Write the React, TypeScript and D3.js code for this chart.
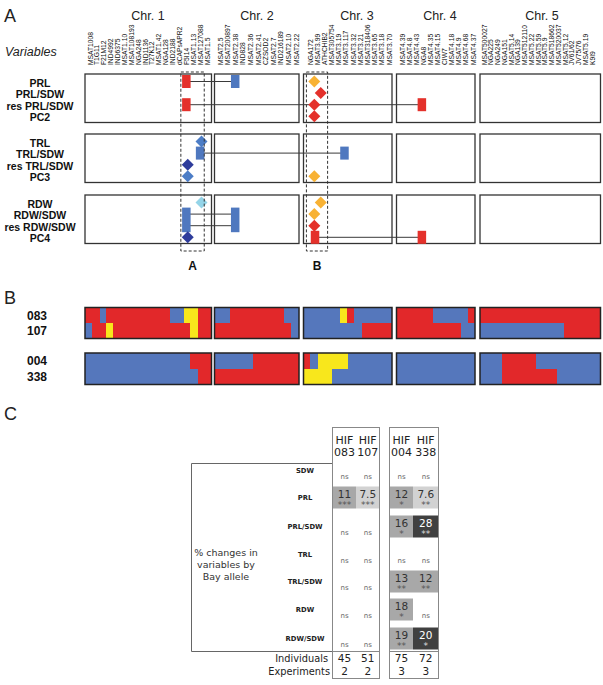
import React from "react";
import * as d3 from "d3";

// ---------------- DATA ----------------
const chromosomes = ["Chr. 1", "Chr. 2", "Chr. 3", "Chr. 4", "Chr. 5"];

const markersChr1 = ["MSAT1008", "T1G11", "F21M12", "IND4992", "IND6375", "MSAT1.10", "MSAT108193", "NGA248", "IND1136", "T27K12", "MSAT1.42", "NGA128", "IND2188", "dCAPsAPR2", "F5I14", "MSAT1.13", "MSAT127088", "MSAT1.5"];
const markersChr2 = ["MSAT2.5", "MSAT200897", "MSAT2.38", "IND828", "MSAT2.36", "MSAT2.41", "CZSOD2", "MSAT2.7", "IND216189", "MSAT2.10", "MSAT2.22"];
const markersChr3 = ["NGA172", "MSAT3.99", "ATHCHIB2", "MSAT305754", "MSAT3.19", "MSAT3.117", "MSAT3.32", "MSAT3.21", "MSAT318406", "MSAT3.65", "MSAT3.18", "MSAT3.70"];
const markersChr4 = ["MSAT4.39", "MSAT4.8", "MSAT4.43", "NGA8", "MSAT4.35", "MSAT4.15", "CIW7", "MSAT4.18", "MSAT4.9", "MSAT4.68", "MSAT4.37"];
const markersChr5 = ["MSAT500027", "NGA225", "NGA249", "NGA151", "MSAT5.14", "NGA139", "MSAT512110", "MSAT5.22", "MSAT5.59", "MSAT5.9", "MSAT518662", "MSAT520037", "MSAT5.12", "JV61/62", "JV75/76", "MSAT5.19", "K9I9"];
const markers = [markersChr1, markersChr2, markersChr3, markersChr4, markersChr5];

const variableGroups = [
  ["PRL", "PRL/SDW", "res PRL/SDW", "PC2"],
  ["TRL", "TRL/SDW", "res TRL/SDW", "PC3"],
  ["RDW", "RDW/SDW", "res RDW/SDW", "PC4"],
];

// QTL marks: group, chromosome index, position (marker index units), rows, shape, colour key
const qtlMarks = [
  { g: 0, chr: 0, pos: 14, r0: 0, r1: 0, shape: "rect", c: "red" },
  { g: 0, chr: 1, pos: 2, r0: 0, r1: 0, shape: "rect", c: "blue" },
  { g: 0, chr: 0, pos: 14, r0: 2, r1: 2, shape: "rect", c: "red" },
  { g: 0, chr: 3, pos: 2.8, r0: 2, r1: 2, shape: "rect", c: "red" },
  { g: 0, chr: 2, pos: 0.6, r0: 0, r1: 0, shape: "diamond", c: "orange" },
  { g: 0, chr: 2, pos: 1.5, r0: 1, r1: 1, shape: "diamond", c: "red" },
  { g: 0, chr: 2, pos: 0.6, r0: 2, r1: 2, shape: "diamond", c: "red" },
  { g: 0, chr: 2, pos: 0.6, r0: 3, r1: 3, shape: "diamond", c: "red" },
  { g: 1, chr: 0, pos: 16.2, r0: 0, r1: 0, shape: "diamond", c: "midblue" },
  { g: 1, chr: 0, pos: 16, r0: 1, r1: 1, shape: "rect", c: "blue" },
  { g: 1, chr: 2, pos: 4.8, r0: 1, r1: 1, shape: "rect", c: "blue" },
  { g: 1, chr: 0, pos: 14.2, r0: 2, r1: 2, shape: "diamond", c: "darkblue" },
  { g: 1, chr: 0, pos: 14.2, r0: 3, r1: 3, shape: "diamond", c: "midblue" },
  { g: 1, chr: 2, pos: 0.6, r0: 3, r1: 3, shape: "diamond", c: "orange" },
  { g: 2, chr: 0, pos: 16.2, r0: 0, r1: 0, shape: "diamond", c: "lightblue" },
  { g: 2, chr: 0, pos: 14, r0: 1, r1: 2, shape: "rect", c: "blue" },
  { g: 2, chr: 1, pos: 2, r0: 1, r1: 2, shape: "rect", c: "blue" },
  { g: 2, chr: 0, pos: 14.2, r0: 3, r1: 3, shape: "diamond", c: "darkblue" },
  { g: 2, chr: 2, pos: 1.5, r0: 0, r1: 0, shape: "diamond", c: "orange" },
  { g: 2, chr: 2, pos: 0.6, r0: 1, r1: 1, shape: "diamond", c: "orange" },
  { g: 2, chr: 2, pos: 0.6, r0: 2, r1: 2, shape: "diamond", c: "red" },
  { g: 2, chr: 2, pos: 0.7, r0: 3, r1: 3, shape: "rect", c: "red" },
  { g: 2, chr: 3, pos: 2.8, r0: 3, r1: 3, shape: "rect", c: "red" },
];

// epistatic links: group, row, from chr/pos, to chr/pos
const epistasisLinks = [
  { g: 0, row: 0, c1: 0, p1: 14, c2: 1, p2: 2 },
  { g: 0, row: 2, c1: 0, p1: 14, c2: 3, p2: 2.8 },
  { g: 1, row: 1, c1: 0, p1: 16, c2: 2, p2: 4.8 },
  { g: 2, row: 1, c1: 0, p1: 14, c2: 1, p2: 2 },
  { g: 2, row: 2, c1: 0, p1: 14, c2: 1, p2: 2 },
  { g: 2, row: 3, c1: 2, p1: 0.7, c2: 3, p2: 2.8 },
];

const highlightRegions = [
  { label: "A", chr: 0, from: 13.2, to: 16.6 },
  { label: "B", chr: 2, from: -0.5, to: 2.45 },
];

// Panel B genotypes (fraction of chromosome, allele: R red, B blue, Y yellow)
const hifLines = ["083", "107", "004", "338"];
const hif083 = [
  [[0, 0.116, "R"], [0.116, 0.168, "B"], [0.168, 0.671, "R"], [0.671, 0.78, "B"], [0.78, 0.89, "Y"], [0.89, 1, "R"]],
  [[0, 0.18, "B"], [0.18, 0.82, "R"], [0.82, 1, "B"]],
  [[0, 0.41, "B"], [0.41, 0.496, "Y"], [0.496, 0.575, "R"], [0.575, 1, "B"]],
  [[0, 0.46, "R"], [0.46, 0.91, "B"], [0.91, 1, "R"]],
  [[0, 1, "R"]],
];
const hif107 = [
  [[0, 0.055, "B"], [0.055, 0.168, "R"], [0.168, 0.223, "Y"], [0.223, 0.832, "R"], [0.832, 0.89, "Y"], [0.89, 1, "R"]],
  [[0, 0.91, "R"], [0.91, 1, "B"]],
  [[0, 0.66, "B"], [0.66, 1, "R"]],
  [[0, 0.82, "R"], [0.82, 1, "B"]],
  [[0, 0.7, "B"], [0.7, 1, "R"]],
];
const hif004 = [
  [[0, 0.83, "B"], [0.83, 1, "R"]],
  [[0, 0.455, "B"], [0.455, 1, "R"]],
  [[0, 0.075, "R"], [0.075, 0.16, "B"], [0.16, 0.5, "Y"], [0.5, 1, "B"]],
  [[0, 1, "B"]],
  [[0, 0.18, "B"], [0.18, 0.466, "R"], [0.466, 1, "B"]],
];
const hif338 = [
  [[0, 0.89, "B"], [0.89, 1, "R"]],
  [[0, 1, "R"]],
  [[0, 0.32, "Y"], [0.32, 1, "B"]],
  [[0, 1, "B"]],
  [[0, 0.18, "B"], [0.18, 0.64, "R"], [0.64, 1, "B"]],
];
const hifGenotypes = [hif083, hif107, hif004, hif338];

// Panel C table
const tableVariables = ["SDW", "PRL", "PRL/SDW", "TRL", "TRL/SDW", "RDW", "RDW/SDW"];
const pctChange = [
  [null, null, null, null],
  [11, 7.5, 12, 7.6],
  [null, null, 16, 28],
  [null, null, null, null],
  [null, null, 13, 12],
  [null, null, 18, null],
  [null, null, 19, 20],
];
const significance = [
  ["ns", "ns", "ns", "ns"],
  ["***", "***", "*", "**"],
  ["ns", "ns", "*", "**"],
  ["ns", "ns", "ns", "ns"],
  ["ns", "ns", "**", "**"],
  ["ns", "ns", "*", "ns"],
  ["ns", "ns", "**", "*"],
];
const individuals = [45, 51, 75, 72];
const experiments = [2, 2, 3, 3];

// ---------------- STYLE / LAYOUT ----------------
const markColors: Record<string, string> = {
  red: "#e4312b",
  blue: "#4f78bf",
  midblue: "#4c7dc6",
  darkblue: "#2e3c9b",
  orange: "#f8b234",
  lightblue: "#94d4e8",
};
const alleleColor = d3.scaleOrdinal<string, string>().domain(["R", "B", "Y"]).range(["#e2282a", "#5577bc", "#f8e71c"]);
const shade = d3.scaleThreshold<number, string>().domain([10, 20]).range(["#d2d2d2", "#a8a8a8", "#404040"]);

const boxX = [[85, 211.5], [214.5, 299], [303.5, 392], [396.5, 475], [480, 600.5]];
const labelRange = [[90, 207], [220, 296], [310, 389], [402, 473], [484, 592]];
const titleX = [148, 257, 357, 440, 542];
const groupTop = [74, 134, 195];
const boxH = 48.5;

const xScales = markers.map((m, i) => d3.scaleLinear().domain([0, m.length - 1]).range(labelRange[i]));
const rowY = (g: number, r: number) => groupTop[g] + 7.5 + 11.6 * r;

const FA = "Liberation Sans, Arial, sans-serif";
const FC = "DejaVu Sans, Verdana, sans-serif";

function diamond(x: number, y: number, s: number) {
  return `M${x},${y - s}L${x + s},${y}L${x},${y + s}L${x - s},${y}Z`;
}

export default function App() {
  // Panel B layout
  const blocksY = [[307.5, 338.5], [353, 384.5]];
  const hifRowY = (i: number) => {
    const b = blocksY[Math.floor(i / 2)];
    const h = (b[1] - b[0]) / 2;
    return [b[0] + (i % 2) * h, h];
  };

  // Panel C layout
  const colBands = [[333, 356], [356, 379.5], [390, 413], [413, 438.5]];
  const varY = d3.scaleOrdinal<string, number>().domain(tableVariables).range([471, 498, 527, 555, 582, 610, 639]);

  return (
    <svg width={603} height={685} style={{ position: "absolute", left: 0, top: 0, background: "#fff" }} fontFamily={FA}>
      <rect x={0} y={0} width={603} height={685} fill="#fff" />
      {/* ---- Panel A ---- */}
      <text x={4} y={22} fontSize={18} fill="#222">A</text>
      <text x={5} y={56} fontSize={12.5} fontStyle="italic" fill="#222">Variables</text>
      {chromosomes.map((c, i) => (
        <text key={c} x={titleX[i]} y={20} fontSize={12.5} textAnchor="middle" fill="#222">{c}</text>
      ))}
      {markers.map((m, ci) =>
        m.map((name, k) => (
          <text key={ci + "-" + k} transform={`translate(${xScales[ci](k)},65) rotate(-90)`} fontSize={6.7} dominantBaseline="central" fill="#111">{name}</text>
        ))
      )}
      {variableGroups.map((vars, g) => (
        <g key={"grp" + g}>
          {vars.map((v, r) => (
            <text key={v} x={40} y={rowY(g, r) + 1} fontSize={10.5} fontWeight="bold" textAnchor="middle" dominantBaseline="central" fill="#111">{v}</text>
          ))}
          {boxX.map((b, ci) => (
            <rect key={ci} x={b[0]} y={groupTop[g]} width={b[1] - b[0]} height={boxH} fill="none" stroke="#333" strokeWidth={1.3} />
          ))}
        </g>
      ))}
      {epistasisLinks.map((l, i) => (
        <line key={"l" + i} x1={xScales[l.c1](l.p1)} x2={xScales[l.c2](l.p2)} y1={rowY(l.g, l.row)} y2={rowY(l.g, l.row)} stroke="#3a3a3a" strokeWidth={1} />
      ))}
      {qtlMarks.map((m, i) => {
        const x = xScales[m.chr](m.pos);
        if (m.shape === "rect") {
          const y0 = rowY(m.g, m.r0) - 6.5;
          const y1 = rowY(m.g, m.r1) + 6.5;
          return <rect key={"m" + i} x={x - 4.25} y={y0} width={8.5} height={y1 - y0} fill={markColors[m.c]} />;
        }
        return <path key={"m" + i} d={diamond(x, rowY(m.g, m.r0), 6)} fill={markColors[m.c]} />;
      })}
      {highlightRegions.map((h) => {
        const x0 = xScales[h.chr](h.from);
        const x1 = xScales[h.chr](h.to);
        return (
          <g key={h.label}>
            <rect x={x0} y={72} width={x1 - x0} height={179} fill="none" stroke="#333" strokeWidth={1} strokeDasharray="3,2" />
            <text x={(x0 + x1) / 2} y={270} fontSize={12} fontWeight="bold" textAnchor="middle" fill="#111">{h.label}</text>
          </g>
        );
      })}

      {/* ---- Panel B ---- */}
      <text x={4} y={304} fontSize={18} fill="#222">B</text>
      {hifLines.map((h, i) => {
        const [y, hh] = hifRowY(i);
        return (
          <g key={h}>
            <text x={37} y={y + hh / 2 + 0.5} fontSize={12} fontWeight="bold" textAnchor="middle" dominantBaseline="central" fill="#111">{h}</text>
            {hifGenotypes[i].map((segs, ci) => {
              const xs = d3.scaleLinear().domain([0, 1]).range(boxX[ci]);
              return segs.map((s: any, k: number) => (
                <rect key={ci + "-" + k} x={xs(s[0])} y={y} width={xs(s[1]) - xs(s[0]) + 0.3} height={hh + 0.3} fill={alleleColor(s[2])} shapeRendering="crispEdges" />
              ));
            })}
          </g>
        );
      })}
      {blocksY.map((b, bi) =>
        boxX.map((bx, ci) => (
          <rect key={bi + "-" + ci} x={bx[0]} y={b[0]} width={bx[1] - bx[0]} height={b[1] - b[0]} fill="none" stroke="#222" strokeWidth={1.5} />
        ))
      )}

      {/* ---- Panel C ---- */}
      <g fontFamily={FC}>
        <text x={4} y={420} fontSize={18} fill="#222" fontFamily={FA}>C</text>
        {/* colored cells */}
        {pctChange.map((row, ri) =>
          row.map((v, ci) =>
            v == null ? null : (
              <rect key={ri + "-" + ci} x={colBands[ci][0]} y={varY(tableVariables[ri]) - 11.5} width={colBands[ci][1] - colBands[ci][0]} height={22} fill={shade(v)} />
            )
          )
        )}
        {/* boxes */}
        <path d="M332.5,463.5H191.5V651.5H332.5" fill="none" stroke="#666" strokeWidth={1} />
        <rect x={332.5} y={427.5} width={47} height={251} fill="none" stroke="#888" strokeWidth={1} />
        <rect x={389.5} y={427.5} width={49} height={251} fill="none" stroke="#888" strokeWidth={1} />
        <line x1={332.5} x2={379.5} y1={651.5} y2={651.5} stroke="#888" />
        <line x1={389.5} x2={438.5} y1={651.5} y2={651.5} stroke="#888" />
        {hifLines.map((h, ci) => {
          const cx = (colBands[ci][0] + colBands[ci][1]) / 2;
          return (
            <g key={"hd" + h}>
              <text x={cx} y={444} fontSize={11} textAnchor="middle" fill="#222">HIF</text>
              <text x={cx} y={456} fontSize={11} textAnchor="middle" fill="#222">{h}</text>
              <text x={cx} y={662} fontSize={10.5} textAnchor="middle" fill="#222">{individuals[ci]}</text>
              <text x={cx} y={675} fontSize={10.5} textAnchor="middle" fill="#222">{experiments[ci]}</text>
            </g>
          );
        })}
        <text x={328} y={662} fontSize={9.8} textAnchor="end" fill="#222">Individuals</text>
        <text x={330} y={675} fontSize={9.8} textAnchor="end" fill="#222">Experiments</text>
        {tableVariables.map((v) => (
          <text key={v} x={305} y={varY(v)} fontSize={6.8} fontWeight="bold" textAnchor="middle" dominantBaseline="central" fill="#222">{v}</text>
        ))}
        <text x={226} y={556} fontSize={9.5} textAnchor="middle" fill="#333">% changes in</text>
        <text x={226} y={568} fontSize={9.5} textAnchor="middle" fill="#333">variables by</text>
        <text x={226} y={580} fontSize={9.5} textAnchor="middle" fill="#333">Bay allele</text>
        {pctChange.map((row, ri) =>
          row.map((v, ci) => {
            const cx = (colBands[ci][0] + colBands[ci][1]) / 2;
            const y = varY(tableVariables[ri]);
            const sig = significance[ri][ci];
            if (v == null) {
              return <text key={ri + "-" + ci} x={cx} y={y + 6} fontSize={7} textAnchor="middle" dominantBaseline="central" fill="#666">{sig}</text>;
            }
            const dark = v >= 20;
            return (
              <g key={ri + "-" + ci}>
                <text x={cx} y={y - 4.5} fontSize={10.5} textAnchor="middle" dominantBaseline="central" fill={dark ? "#fff" : "#333"}>{v}</text>
                <text x={cx} y={y + 7} fontSize={9} textAnchor="middle" dominantBaseline="central" fill={dark ? "#ddd" : "#555"}>{sig}</text>
              </g>
            );
          })
        )}
      </g>
    </svg>
  );
}
